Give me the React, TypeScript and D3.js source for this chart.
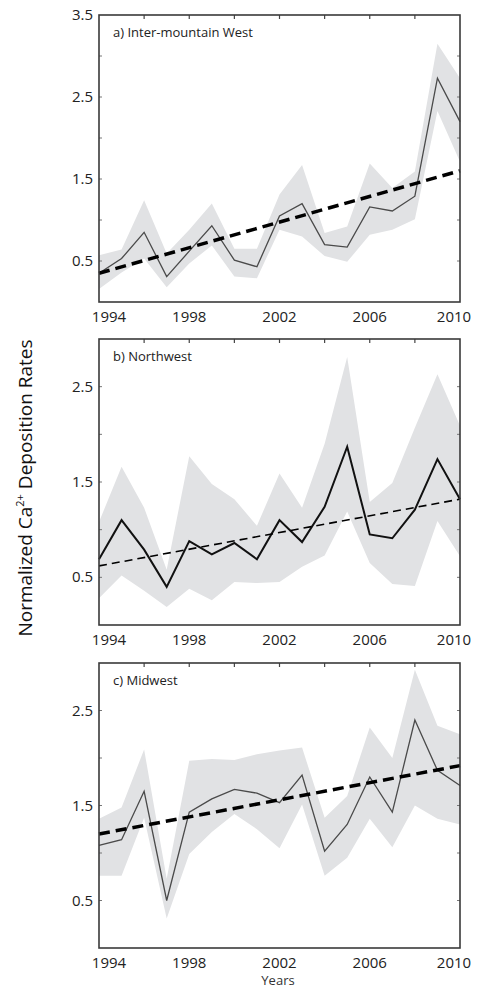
import React from "react";
import { scaleLinear, line, area } from "d3";

// years on the x axis
const years = [1994, 1995, 1996, 1997, 1998, 1999, 2000, 2001, 2002, 2003, 2004, 2005, 2006, 2007, 2008, 2009, 2010];
const xTickLabels = [1994, 1998, 2002, 2006, 2010];
const xMinorTicks = [1996, 1998, 2000, 2002, 2004, 2006, 2008];

// a) Inter-mountain West
const westMean = [0.35, 0.53, 0.85, 0.31, 0.62, 0.93, 0.51, 0.43, 1.05, 1.2, 0.7, 0.67, 1.16, 1.11, 1.29, 2.73, 2.2];
const westUpper = [0.57, 0.64, 1.24, 0.59, 0.88, 1.2, 0.65, 0.65, 1.31, 1.67, 0.84, 0.92, 1.69, 1.39, 1.59, 3.15, 2.73];
const westLower = [0.16, 0.36, 0.53, 0.18, 0.47, 0.69, 0.31, 0.29, 0.88, 0.8, 0.56, 0.49, 0.82, 0.88, 1.01, 2.33, 1.71];
const westTrend = [0.35, 1.6];
const westYTicks = [0.5, 1.5, 2.5, 3.5];

// b) Northwest
const nwMean = [0.69, 1.1, 0.79, 0.4, 0.88, 0.74, 0.86, 0.69, 1.1, 0.87, 1.24, 1.87, 0.95, 0.91, 1.21, 1.74, 1.32];
const nwUpper = [1.08, 1.66, 1.23, 0.58, 1.77, 1.48, 1.32, 1.04, 1.59, 1.23, 1.9, 2.81, 1.29, 1.49, 2.07, 2.63, 2.09];
const nwLower = [0.28, 0.52, 0.36, 0.19, 0.38, 0.26, 0.45, 0.44, 0.45, 0.61, 0.73, 1.19, 0.65, 0.43, 0.41, 1.09, 0.72];
const nwTrend = [0.62, 1.32];

// c) Midwest
const mwMean = [1.08, 1.14, 1.65, 0.5, 1.43, 1.57, 1.67, 1.63, 1.53, 1.82, 1.02, 1.3, 1.8, 1.43, 2.4, 1.87, 1.71];
const mwUpper = [1.36, 1.48, 2.09, 0.73, 1.97, 1.99, 1.98, 2.04, 2.08, 2.11, 1.37, 1.6, 2.32, 2.0, 2.93, 2.34, 2.25];
const mwLower = [0.76, 0.76, 1.37, 0.31, 0.99, 1.22, 1.41, 1.25, 1.05, 1.51, 0.76, 0.95, 1.36, 1.06, 1.5, 1.36, 1.3];
const mwTrend = [1.2, 1.92];

const lowerYTicks = [0.5, 1.5, 2.5];

const FONT = "'Open Sans', sans-serif";
const LEFT = 99;
const RIGHT = 460;

function Panel({ top, bottom, yMax, yTicks, label, mean, upper, lower, trend, lineColor, lineWidth, trendWidth, trendDash, showYears }) {
  const x = scaleLinear().domain([1994, 2010]).range([LEFT, RIGHT]);
  const y = scaleLinear().domain([0, yMax]).range([bottom, top]);

  const band = area()
    .x((d, i) => x(years[i]))
    .y0((d, i) => y(lower[i]))
    .y1((d) => y(d));
  const meanLine = line()
    .x((d, i) => x(years[i]))
    .y((d) => y(d));

  const halfTicks = [];
  for (let v = 0.5; v < yMax; v += 0.5) halfTicks.push(v);

  return (
    <g>
      <path d={band(upper)} fill="#e1e2e4" stroke="none" />
      <path d={meanLine(mean)} fill="none" stroke={lineColor} strokeWidth={lineWidth} strokeLinejoin="miter" />
      <line
        x1={x(1994)}
        x2={x(2010)}
        y1={y(trend[0])}
        y2={y(trend[1])}
        stroke="#000"
        strokeWidth={trendWidth}
        strokeDasharray={trendDash}
      />
      {xMinorTicks.map((t) => (
        <line key={"tt" + t} x1={x(t)} x2={x(t)} y1={top} y2={top + 4} stroke="#444" strokeWidth={1.2} />
      ))}
      {halfTicks.map((v) => (
        <g key={"yt" + v}>
          <line x1={RIGHT} x2={RIGHT - 3} y1={y(v)} y2={y(v)} stroke="#777" strokeWidth={1} />
          <line x1={LEFT} x2={LEFT + 3} y1={y(v)} y2={y(v)} stroke="#777" strokeWidth={1} />
        </g>
      ))}
      <rect x={LEFT} y={top} width={RIGHT - LEFT} height={bottom - top} fill="none" stroke="#3a3a3a" strokeWidth={1.6} />
      {yTicks.map((v) => (
        <text key={"yl" + v} x={93} y={y(v) + 5} textAnchor="end" fontSize={15} fill="#222" fontFamily={FONT}>
          {v.toFixed(1)}
        </text>
      ))}
      {xTickLabels.map((t, i) => (
        <text
          key={"xl" + t}
          x={x(t) + (i === 0 ? 10 : i === xTickLabels.length - 1 ? -6 : 0)}
          y={bottom + 20}
          textAnchor="middle"
          fontSize={15}
          fill="#222"
          fontFamily={FONT}
        >
          {t}
        </text>
      ))}
      <text x={LEFT + 14} y={top + 22} fontSize={13} fill="#222" fontFamily={FONT}>
        {label}
      </text>
      {showYears && (
        <text x={278} y={bottom + 37} textAnchor="middle" fontSize={13} fill="#333" fontFamily={FONT}>
          Years
        </text>
      )}
    </g>
  );
}

export default function App() {
  return (
    <div style={{ position: "absolute", left: 0, top: 0 }}>
      <svg width={481} height={994} style={{ display: "block", background: "#fff" }}>
        <Panel
          top={15}
          bottom={302}
          yMax={3.5}
          yTicks={westYTicks}
          label="a) Inter-mountain West"
          mean={westMean}
          upper={westUpper}
          lower={westLower}
          trend={westTrend}
          lineColor="#4a4a4a"
          lineWidth={1.3}
          trendWidth={3.5}
          trendDash="11 6"
          showYears={false}
        />
        <Panel
          top={339}
          bottom={625}
          yMax={3}
          yTicks={lowerYTicks}
          label="b) Northwest"
          mean={nwMean}
          upper={nwUpper}
          lower={nwLower}
          trend={nwTrend}
          lineColor="#111"
          lineWidth={2}
          trendWidth={1.6}
          trendDash="8 5"
          showYears={false}
        />
        <Panel
          top={663}
          bottom={948}
          yMax={3}
          yTicks={lowerYTicks}
          label="c) Midwest"
          mean={mwMean}
          upper={mwUpper}
          lower={mwLower}
          trend={mwTrend}
          lineColor="#4a4a4a"
          lineWidth={1.3}
          trendWidth={3.5}
          trendDash="11 6"
          showYears={true}
        />
        <text
          transform="translate(32, 488) rotate(-90)"
          textAnchor="middle"
          fontSize={19}
          fill="#111"
          fontFamily={FONT}
        >
          Normalized Ca
          <tspan fontSize={11} dy={-8}>2+</tspan>
          <tspan dy={8}> Deposition Rates</tspan>
        </text>
      </svg>
    </div>
  );
}
